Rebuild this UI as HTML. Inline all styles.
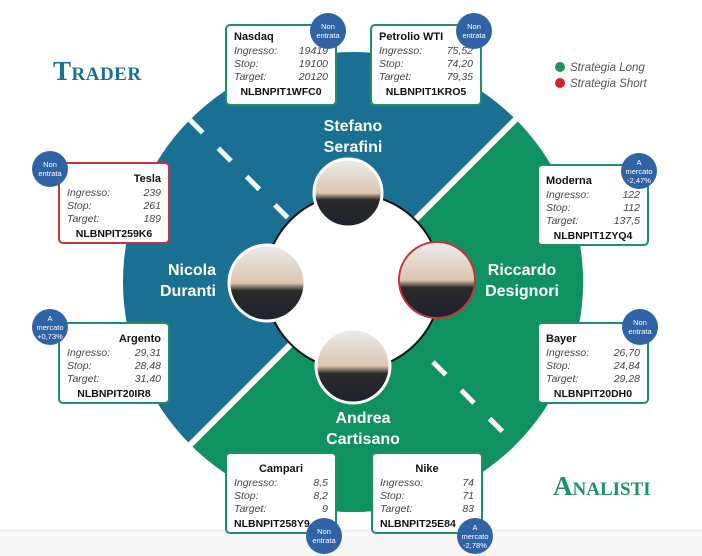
<!DOCTYPE html>
<html><head><meta charset="utf-8"><style>
body{margin:0;width:702px;height:555px;position:relative;background:#fff;font-family:"Liberation Sans",sans-serif;overflow:hidden}
.box{position:absolute;width:112px;height:82px;background:#fff;border:2px solid #1e9163;border-radius:5px;box-sizing:border-box;padding:5px 7px 0 7px;font-size:10.5px;color:#222;overflow:hidden}
.box.red{border-color:#c8333a}
.box .n{font-weight:bold;font-size:11px;color:#111;height:14px}
.box .r{display:flex;justify-content:space-between;font-style:italic;color:#444;line-height:13px}
.box .c{font-weight:bold;text-align:center;font-size:10.5px;color:#111;margin-top:2px}
.b{position:absolute;width:36px;height:36px;border-radius:50%;background:#2f63a5;color:#fff;font-size:7.5px;text-align:center;display:flex;align-items:center;justify-content:center;line-height:9px}
.nm{position:absolute;color:#fff;font-weight:bold;font-size:16px;line-height:21px}
</style></head><body>
<div style="position:absolute;left:0;top:530px;width:702px;height:25px;background:#f7f7f7;border-top:1px solid #eee"></div>
<svg width="702" height="555" style="position:absolute;left:0;top:0">
<defs><clipPath id="c"><circle cx="353" cy="282" r="230"/></clipPath>
<linearGradient id="p" x1="0" y1="0" x2="0" y2="1"><stop offset="0" stop-color="#ececec"/><stop offset="0.5" stop-color="#dcc6b0"/><stop offset="0.6" stop-color="#2a2a2a"/><stop offset="1" stop-color="#1e2230"/></linearGradient></defs>
<g clip-path="url(#c)">
<rect x="0" y="0" width="702" height="555" fill="#1a7093"/>
<polygon points="-100,735 800,-165 800,800" fill="#0f9160"/>
</g>
<line x1="190" y1="445" x2="516" y2="119" stroke="#fff" stroke-width="6"/>
<g stroke="#fff" stroke-width="5" stroke-dasharray="18,22">
<line x1="190" y1="120" x2="300" y2="230"/>
<line x1="433" y1="362" x2="520" y2="449"/>
</g>
<circle cx="353" cy="282" r="88" fill="#fff" stroke="#111" stroke-width="2"/>
<circle cx="348" cy="193" r="34" fill="url(#p)" stroke="#fff" stroke-width="3"/>
<circle cx="267" cy="283" r="38" fill="url(#p)" stroke="#fff" stroke-width="3"/>
<circle cx="437" cy="280" r="38" fill="url(#p)" stroke="#c8333a" stroke-width="2"/>
<circle cx="353" cy="366" r="37" fill="url(#p)" stroke="#fff" stroke-width="3"/>
<circle cx="560" cy="67" r="5" fill="#1e9163"/>
<circle cx="560" cy="83" r="5" fill="#d4232a"/>
</svg>
<div style="position:absolute;left:570px;top:60px;font-size:11.5px;font-style:italic;color:#555;line-height:16px">Strategia Long<br>Strategia Short</div>
<div style="position:absolute;left:53px;top:56px;font-family:'Liberation Serif',serif;font-weight:bold;font-size:27px;color:#1a7093;font-variant:small-caps;letter-spacing:0.5px">Trader</div>
<div style="position:absolute;left:553px;top:471px;font-family:'Liberation Serif',serif;font-weight:bold;font-size:27px;color:#1e9163;font-variant:small-caps">Analisti</div>
<div class="nm" style="left:300px;top:116px;width:106px;text-align:center">Stefano<br>Serafini</div>
<div class="nm" style="left:140px;top:260px;width:76px;text-align:right">Nicola<br>Duranti</div>
<div class="nm" style="left:484px;top:260px;width:76px;text-align:center">Riccardo<br>Designori</div>
<div class="nm" style="left:310px;top:408px;width:106px;text-align:center">Andrea<br>Cartisano</div>

<div class="box" style="left:225px;top:24px"><div class="n">Nasdaq</div><div class="r"><span>Ingresso:</span><span>19419</span></div><div class="r"><span>Stop:</span><span>19100</span></div><div class="r"><span>Target:</span><span>20120</span></div><div class="c">NLBNPIT1WFC0</div></div>
<div class="b" style="left:310px;top:13px">Non<br>entrata</div>
<div class="box" style="left:370px;top:24px"><div class="n">Petrolio WTI</div><div class="r"><span>Ingresso:</span><span>75,52</span></div><div class="r"><span>Stop:</span><span>74,20</span></div><div class="r"><span>Target:</span><span>79,35</span></div><div class="c">NLBNPIT1KRO5</div></div>
<div class="b" style="left:456px;top:13px">Non<br>entrata</div>
<div class="box red" style="left:58px;top:162px"><div class="n" style="text-align:right;margin-top:4px">Tesla</div><div class="r"><span>Ingresso:</span><span>239</span></div><div class="r"><span>Stop:</span><span>261</span></div><div class="r"><span>Target:</span><span>189</span></div><div class="c">NLBNPIT259K6</div></div>
<div class="b" style="left:32px;top:151px">Non<br>entrata</div>
<div class="box" style="left:537px;top:164px"><div class="n" style="margin-top:4px">Moderna</div><div class="r"><span>Ingresso:</span><span>122</span></div><div class="r"><span>Stop:</span><span>112</span></div><div class="r"><span>Target:</span><span>137,5</span></div><div class="c">NLBNPIT1ZYQ4</div></div>
<div class="b" style="left:621px;top:153px">A<br>mercato<br>-2,47%</div>
<div class="box" style="left:58px;top:322px"><div class="n" style="text-align:right;margin-top:4px">Argento</div><div class="r"><span>Ingresso:</span><span>29,31</span></div><div class="r"><span>Stop:</span><span>28,48</span></div><div class="r"><span>Target:</span><span>31,40</span></div><div class="c">NLBNPIT20IR8</div></div>
<div class="b" style="left:32px;top:309px">A<br>mercato<br>+0,73%</div>
<div class="box" style="left:537px;top:322px"><div class="n" style="margin-top:4px">Bayer</div><div class="r"><span>Ingresso:</span><span>26,70</span></div><div class="r"><span>Stop:</span><span>24,84</span></div><div class="r"><span>Target:</span><span>29,28</span></div><div class="c">NLBNPIT20DH0</div></div>
<div class="b" style="left:622px;top:309px">Non<br>entrata</div>
<div class="box" style="left:225px;top:452px"><div class="n" style="text-align:center;margin-top:4px">Campari</div><div class="r"><span>Ingresso:</span><span>8,5</span></div><div class="r"><span>Stop:</span><span>8,2</span></div><div class="r"><span>Target:</span><span>9</span></div><div class="c" style="text-align:left">NLBNPIT258Y9</div></div>
<div class="b" style="left:306px;top:518px">Non<br>entrata</div>
<div class="box" style="left:371px;top:452px"><div class="n" style="text-align:center;margin-top:4px">Nike</div><div class="r"><span>Ingresso:</span><span>74</span></div><div class="r"><span>Stop:</span><span>71</span></div><div class="r"><span>Target:</span><span>83</span></div><div class="c" style="text-align:left">NLBNPIT25E84</div></div>
<div class="b" style="left:457px;top:518px">A<br>mercato<br>-2,78%</div>
</body></html>
